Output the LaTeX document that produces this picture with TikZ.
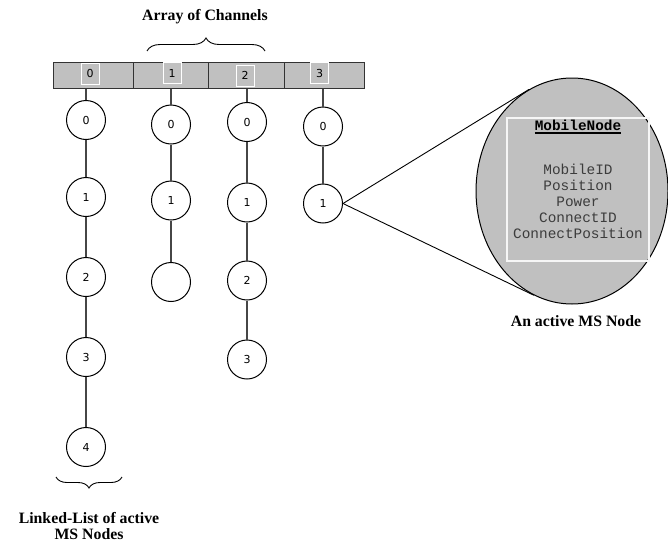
\documentclass[tikz,border=0pt]{standalone}
\usepackage{fontspec}
\setmainfont{Liberation Serif}
\newfontfamily\labelfont{DejaVu Sans}
\newfontfamily\codefont{Liberation Mono}
\usetikzlibrary{shapes.geometric,decorations.pathreplacing}
\definecolor{panelgray}{RGB}{192,192,192}
\definecolor{wiregray}{RGB}{70,70,70}
\definecolor{codegray}{RGB}{60,60,60}
% thick underline for the class title
\newcommand\thickul[1]{\leavevmode\setbox0\hbox{#1}\rlap{\vrule height -2pt depth 4pt width \wd0}\box0}

\begin{document}
\begin{tikzpicture}[x=1pt,y=-1pt,
  msnode/.style={circle,draw=black,line width=1pt,minimum size=39pt,inner sep=0pt,
    font=\labelfont\fontsize{11}{12}\selectfont},
  link/.style={draw=wiregray,line width=1.1pt},
  cell/.style={draw=black!80,line width=1pt,fill=panelgray,minimum height=26pt,inner sep=0pt},
  slot/.style={draw=white,line width=1pt,fill=panelgray,minimum width=18pt,minimum height=21pt,
    inner sep=0pt,font=\labelfont\fontsize{11}{12}\selectfont},
  caption/.style={font=\bfseries\fontsize{15.8}{16}\selectfont,align=center,inner sep=0pt},
  field/.style={font=\codefont\fontsize{14.4}{16}\selectfont,text=codegray,align=center,inner sep=0pt},
  bracestyle/.style={decorate,decoration={brace,amplitude=13pt},line width=0.9pt},
  zoomline/.style={draw=black,line width=0.9pt}
]
\useasboundingbox (0,0) rectangle (668,543);

% channel array
\node[cell,minimum width=80pt] (ch0) at (93,75) {};
\node[cell,minimum width=75pt] (ch1) at (170.5,75) {};
\node[cell,minimum width=76pt] (ch2) at (246,75) {};
\node[cell,minimum width=80pt] (ch3) at (324,75) {};
\node[slot] (s0) at (90,73.5) {0};
\node[slot] (s1) at (172,73) {1};
\node[slot] (s2) at (245,75.5) {2};
\node[slot] (s3) at (319.5,73) {3};

% linked lists of MS nodes
\node[msnode] (a0) at (86,120) {0};
\node[msnode] (a1) at (86,197) {1};
\node[msnode] (a2) at (86,277) {2};
\node[msnode] (a3) at (86,357) {3};
\node[msnode] (a4) at (86,447) {4};

\node[msnode] (b0) at (171,124.5) {0};
\node[msnode] (b1) at (171,200.5) {1};
\node[msnode] (b2) at (171,282) {};

\node[msnode] (d0) at (247,122) {0};
\node[msnode] (d1) at (247,202.5) {1};
\node[msnode] (d2) at (247,280.5) {2};
\node[msnode] (d3) at (247,359.5) {3};

\node[msnode] (e0) at (323,126.5) {0};
\node[msnode] (e1) at (323,203.5) {1};

\draw[link] (a0 |- ch0.south) -- (a0);
\draw[link] (b0 |- ch1.south) -- (b0);
\draw[link] (d0 |- ch2.south) -- (d0);
\draw[link] (e0 |- ch3.south) -- (e0);
\draw[link] (a0) -- (a1) (a1) -- (a2) (a2) -- (a3) (a3) -- (a4);
\draw[link] (b0) -- (b1) (b1) -- (b2);
\draw[link] (d0) -- (d1) (d1) -- (d2) (d2) -- (d3);
\draw[link] (e0) -- (e1);

% magnified MS node
\node[ellipse,draw=black,line width=1pt,fill=panelgray,minimum width=192pt,minimum height=226pt,inner sep=0pt] (big) at (572,191) {};
\draw[zoomline] (e1.east) -- (big.113);
\draw[zoomline] (e1.east) -- (big.250);
\node[draw=white!85!panelgray,line width=1.2pt,minimum width=142pt,minimum height=143pt,inner sep=0pt] (frame) at (578,189.5) {};
\node[field,text=black,font=\codefont\bfseries\fontsize{14.4}{16}\selectfont] (cls) at (578,127) {\thickul{MobileNode}};
\node[field] (attrs) at (578,201) {MobileID\\Position\\Power\\ConnectID\\ConnectPosition};

% braces and captions
\draw[bracestyle] (147,51) -- (265,51);
\draw[bracestyle,decoration={amplitude=11pt}] (122,477) -- (56,477);
\node[caption] (arraycap) at (205,17) {Array of Channels};
\node[caption] (mscap) at (576,321) {An active MS Node};
\node[caption] (listcap) at (89,526) {Linked-List of active\\MS Nodes};
\end{tikzpicture}
\end{document}
